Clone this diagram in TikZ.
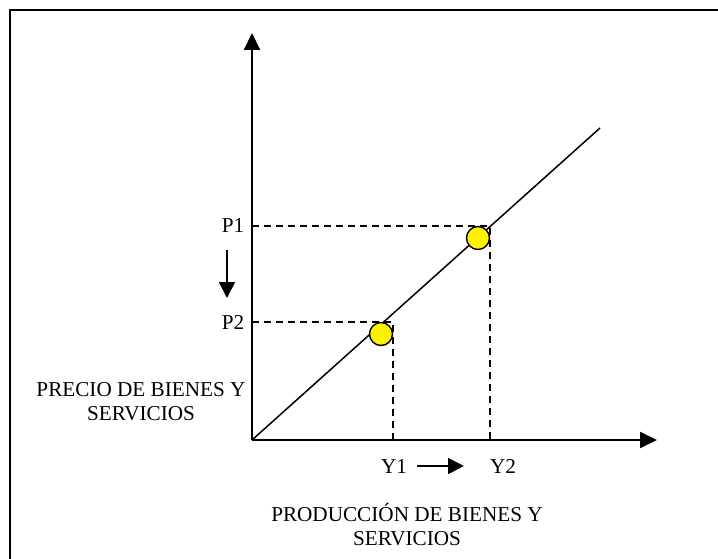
\documentclass[tikz,border=0pt]{standalone}
\usepackage{fontspec}
\setmainfont{Liberation Serif}
\usetikzlibrary{arrows.meta}
\begin{document}
\begin{tikzpicture}[x=1pt,y=-1pt,
  axis/.style={line width=2pt,-{Triangle[length=17pt,width=16pt]}},
  guide/.style={line width=1.4pt,dash pattern=on 7pt off 5pt},
  dot/.style={circle,draw,line width=1.4pt,fill=yellow,minimum size=23pt,inner sep=0pt},
  lbl/.style={font=\fontsize{21.2}{24}\selectfont,inner sep=0pt,align=center},
  movearrow/.style={line width=1.8pt,-{Triangle[length=16pt,width=16pt]}}]
\useasboundingbox (0,0) rectangle (718,559);
% frame (only left and top edges visible)
\draw[line width=2.6pt] (10,559) -- (10,10) -- (718,10);
% axes
\coordinate (O) at (252,440);
\coordinate (ytop) at (252,33);
\coordinate (xend) at (657,440);
\draw[axis] (O) -- (ytop);
\draw[axis] (O) -- (xend);
% supply line
\coordinate (lend) at (600,128);
\draw[line width=1.5pt] (O) -- (lend);
% guides
\coordinate (p1) at (252,226);
\coordinate (p1c) at (490,226);
\coordinate (y2) at (490,440);
\coordinate (p2) at (252,322);
\coordinate (p2c) at (393,322);
\coordinate (y1) at (393,440);
\draw[guide] (p1) -- (p1c) -- (y2);
\draw[guide] (p2) -- (p2c) -- (y1);
% dots
\node[dot] (d1) at (478,238) {};
\node[dot] (d2) at (381,334) {};
% labels
\node[lbl] (P1) at (233,226) {P1};
\node[lbl] (P2) at (233,322) {P2};
\coordinate (da) at (227,250);
\coordinate (db) at (227,298);
\draw[movearrow] (da) -- (db);
\node[lbl] (Y1) at (394,466) {Y1};
\node[lbl] (Y2) at (503,466) {Y2};
\coordinate (ya) at (417,466);
\coordinate (yb) at (464,466);
\draw[movearrow] (ya) -- (yb);
\node[lbl] (ylab) at (141,402) {PRECIO DE BIENES Y\\SERVICIOS};
\node[lbl] (xlab) at (407,525) {PRODUCCIÓN DE BIENES Y\\SERVICIOS};
\end{tikzpicture}
\end{document}
